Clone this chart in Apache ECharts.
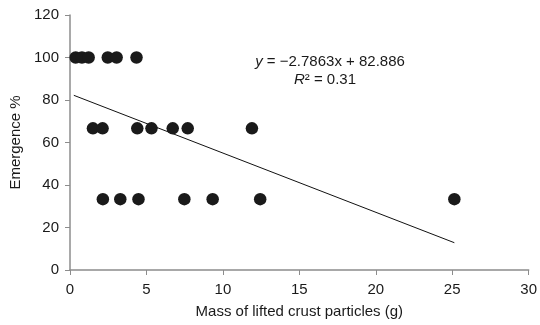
<!DOCTYPE html>
<html>
<head>
<meta charset="utf-8">
<script src="https://cdn.jsdelivr.net/npm/echarts@6/dist/echarts.min.js"></script>
<style>
  html, body { margin: 0; padding: 0; background: #fff; }
  #chart { width: 540px; height: 325px; }
</style>
</head>
<body>
<div id="chart"></div>
<script>
// emergence at 100 %, 66.7 % and 33.3 %, x = mass of lifted crust (g)
const mass100 = [0.37, 0.78, 1.22, 2.47, 3.05, 4.35];
const mass67 = [1.5, 2.13, 4.4, 5.33, 6.72, 7.7, 11.9];
const mass33 = [2.15, 3.29, 4.48, 7.48, 9.33, 12.44, 25.14];
const emergenceLevels = [100, 66.67, 33.33];
// ends of the linear trendline as drawn
const trendEnds = [[0.25, 82.2], [25.14, 12.84]];
const equationText = 'y = −2.7863x + 82.886';
const rSquaredText = 'R² = 0.31';

const points = [];
[mass100, mass67, mass33].forEach((xs, i) => {
  xs.forEach((x) => points.push([x, emergenceLevels[i]]));
});

const axisGrey = '#8c8c8c';
const textColor = '#1a1a1a';
const font = 'Liberation Sans';

const chart = echarts.init(document.getElementById('chart'));
chart.setOption({
  backgroundColor: '#fff',
  animation: false,
  grid: { left: 70, right: 10, top: 15, bottom: 55 },
  xAxis: {
    type: 'value',
    min: 0,
    max: 30,
    interval: 5,
    name: 'Mass of lifted crust particles (g)',
    nameLocation: 'middle',
    nameGap: 34,
    nameTextStyle: { color: textColor, fontSize: 15, fontFamily: font },
    axisLine: { lineStyle: { color: axisGrey, width: 1.5 } },
    axisTick: { show: true, length: 5, lineStyle: { color: axisGrey } },
    axisLabel: { color: textColor, fontSize: 15, fontFamily: font, margin: 12 },
    splitLine: { show: false }
  },
  yAxis: {
    type: 'value',
    min: 0,
    max: 120,
    interval: 20,
    name: 'Emergence %',
    nameLocation: 'middle',
    nameGap: 46,
    nameTextStyle: { color: textColor, fontSize: 15, fontFamily: font },
    axisLine: { show: true, lineStyle: { color: axisGrey, width: 1.5 } },
    axisTick: { show: true, length: 5, lineStyle: { color: axisGrey } },
    axisLabel: { color: textColor, fontSize: 15, fontFamily: font, margin: 11 },
    splitLine: { show: false }
  },
  series: [
    {
      type: 'line',
      data: trendEnds,
      showSymbol: false,
      lineStyle: { color: '#111', width: 1 },
      z: 1
    },
    {
      type: 'scatter',
      data: points,
      symbolSize: 12.5,
      itemStyle: { color: '#1a1a1a', opacity: 1 },
      z: 2
    }
  ],
  graphic: [
    {
      type: 'text',
      x: 330,
      y: 62,
      style: {
        text: '{i|y} = ' + equationText.slice(4),
        rich: {
          i: { fontStyle: 'italic', fontSize: 15, fontFamily: font, fill: textColor }
        },
        fontSize: 15,
        fontFamily: font,
        fill: textColor,
        align: 'center',
        verticalAlign: 'middle'
      }
    },
    {
      type: 'text',
      x: 325,
      y: 80,
      style: {
        text: '{i|R}' + rSquaredText.slice(1),
        rich: {
          i: { fontStyle: 'italic', fontSize: 15, fontFamily: font, fill: textColor }
        },
        fontSize: 15,
        fontFamily: font,
        fill: textColor,
        align: 'center',
        verticalAlign: 'middle'
      }
    }
  ]
});
</script>
</body>
</html>
